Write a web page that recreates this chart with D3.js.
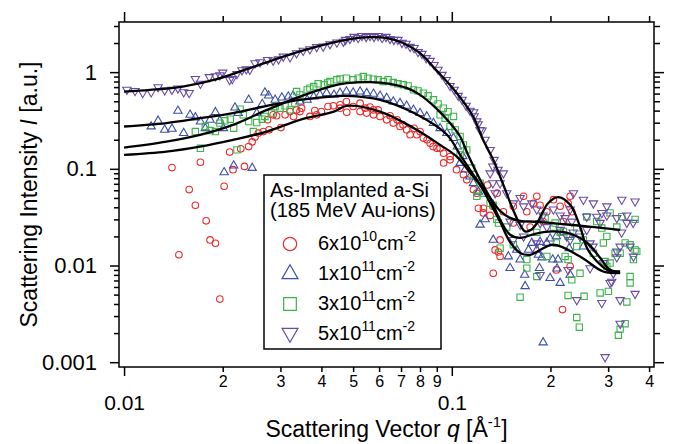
<!DOCTYPE html>
<html>
<head>
<meta charset="utf-8">
<script src="https://cdn.jsdelivr.net/npm/d3@7"></script>
<style>
    body { margin: 0; background: #fff; }
    svg { display: block; font-family: "Liberation Sans", Arial, sans-serif; }
</style>
</head>
<body>
<div id="chart"></div>
<script>
// Scattering data [q (1/A), intensity (a.u.)]
var redPoints = [[0.0140,0.103],[0.0147,0.0129],[0.0158,0.061],[0.0165,0.042],[0.0171,0.117],[0.0178,0.029],[0.0183,0.0184],[0.0190,0.017],[0.0196,0.0045],[0.0202,0.066],[0.0210,0.149],[0.0215,0.098],[0.0227,0.161],[0.0233,0.106],[0.0240,0.170],[0.0246,0.19],[0.0251,0.213],[0.0257,0.234],[0.0266,0.243],[0.0274,0.321],[0.0277,0.253],[0.0285,0.362],[0.0292,0.354],[0.0301,0.267],[0.0310,0.362],[0.0321,0.391],[0.0329,0.348],[0.0336,0.407],[0.0344,0.391],[0.0348,0.424],[0.0369,0.348],[0.0382,0.40],[0.0387,0.362],[0.0400,0.391],[0.0419,0.441],[0.0435,0.448],[0.0456,0.424],[0.0456,0.459],[0.0477,0.496],[0.0478,0.385],[0.0500,0.441],[0.0525,0.478],[0.0525,0.391],[0.0544,0.424],[0.0550,0.377],[0.0563,0.435],[0.0577,0.407],[0.0577,0.362],[0.0596,0.407],[0.0604,0.348],[0.0633,0.321],[0.0648,0.354],[0.0663,0.297],[0.0681,0.321],[0.0695,0.274],[0.0710,0.285],[0.0728,0.253],[0.0746,0.225],[0.0767,0.263],[0.0782,0.225],[0.0800,0.243],[0.0819,0.208],[0.0841,0.20],[0.0859,0.184],[0.0877,0.17],[0.0901,0.163],[0.0921,0.163],[0.0944,0.145],[0.0944,0.115],[0.0988,0.134],[0.0988,0.124],[0.1034,0.098],[0.1085,0.087],[0.1111,0.077],[0.1164,0.061],[0.1192,0.056],[0.1206,0.039],[0.1249,0.039],[0.1249,0.035],[0.1285,0.068],[0.1309,0.033],[0.1334,0.041],[0.1338,0.0083],[0.1356,0.0145],[0.1375,0.056],[0.1388,0.0138],[0.1404,0.0184],[0.1404,0.0124],[0.1437,0.036],[0.1541,0.041],[0.1541,0.0275],[0.1656,0.052],[0.1694,0.036],[0.1734,0.025],[0.1775,0.044],[0.1817,0.052],[0.186,0.042],[0.190,0.0285],[0.195,0.036],[0.2042,0.048],[0.2085,0.0090],[0.2141,0.041],[0.2177,0.0035],[0.2192,0.0285],[0.2264,0.044],[0.2297,0.052],[0.2297,0.0098],[0.2324,0.036]]

var bluePoints = [[0.0121,0.274],[0.0127,0.314],[0.0133,0.253],[0.0140,0.259],[0.0146,0.398],[0.0152,0.234],[0.0159,0.362],[0.0165,0.340],[0.0171,0.308],[0.0177,0.263],[0.0183,0.321],[0.0190,0.385],[0.0196,0.314],[0.0201,0.263],[0.0202,0.092],[0.0216,0.108],[0.0218,0.430],[0.0223,0.377],[0.0240,0.517],[0.0246,0.102],[0.0254,0.377],[0.0264,0.467],[0.0269,0.615],[0.0276,0.572],[0.0289,0.517],[0.0303,0.546],[0.0317,0.559],[0.0328,0.572],[0.0344,0.496],[0.0362,0.517],[0.0379,0.559],[0.0396,0.582],[0.0415,0.606],[0.0437,0.582],[0.0456,0.610],[0.0477,0.630],[0.0500,0.615],[0.0525,0.630],[0.0550,0.606],[0.0577,0.597],[0.0604,0.569],[0.0633,0.540],[0.0663,0.496],[0.0695,0.478],[0.0728,0.448],[0.0764,0.407],[0.0800,0.377],[0.0839,0.348],[0.0879,0.297],[0.0921,0.263],[0.0966,0.234],[0.1012,0.208],[0.1040,0.170],[0.106,0.115],[0.1080,0.135],[0.1098,0.098],[0.1137,0.083],[0.1164,0.071],[0.1206,0.058],[0.122,0.0264],[0.1264,0.030],[0.1338,0.0184],[0.1488,0.0124],[0.1506,0.0094],[0.1578,0.0145],[0.1616,0.0115],[0.1669,0.0080],[0.1674,0.0061],[0.1714,0.0145],[0.1755,0.0171],[0.1817,0.0145],[0.1838,0.0129],[0.1851,0.0094],[0.186,0.0175],[0.1882,0.0121],[0.190,0.0016],[0.195,0.0171],[0.1995,0.019],[0.1995,0.0074],[0.2032,0.0115],[0.2085,0.020],[0.2095,0.0093],[0.211,0.0115],[0.2141,0.0066],[0.2282,0.0151],[0.2297,0.0080],[0.2521,0.0157]]

var greenPoints = [[0.0165,0.243],[0.0171,0.163],[0.0177,0.274],[0.0183,0.249],[0.0190,0.243],[0.0196,0.297],[0.0203,0.314],[0.0211,0.326],[0.0216,0.263],[0.0221,0.157],[0.0226,0.414],[0.0231,0.362],[0.0240,0.308],[0.0248,0.243],[0.0254,0.301],[0.0264,0.326],[0.0269,0.348],[0.0282,0.377],[0.0289,0.441],[0.0299,0.424],[0.0310,0.448],[0.0321,0.407],[0.0332,0.478],[0.0336,0.63],[0.0344,0.582],[0.0362,0.656],[0.0369,0.683],[0.0379,0.709],[0.0391,0.757],[0.0408,0.739],[0.0418,0.775],[0.0425,0.80],[0.0446,0.833],[0.0456,0.85],[0.0477,0.867],[0.0500,0.833],[0.0518,0.867],[0.0537,0.90],[0.0555,0.867],[0.0576,0.847],[0.0596,0.833],[0.0618,0.80],[0.0639,0.833],[0.0663,0.78],[0.0685,0.757],[0.0711,0.739],[0.0736,0.72],[0.0764,0.656],[0.0789,0.64],[0.0819,0.606],[0.0847,0.569],[0.0879,0.517],[0.0908,0.47],[0.0921,0.362],[0.0942,0.424],[0.0954,0.334],[0.0974,0.39],[0.0988,0.274],[0.1012,0.348],[0.1024,0.253],[0.106,0.216],[0.106,0.1395],[0.1085,0.177],[0.1111,0.157],[0.1150,0.102],[0.1164,0.087],[0.1192,0.052],[0.122,0.071],[0.1249,0.056],[0.1309,0.044],[0.1338,0.042],[0.1371,0.030],[0.1388,0.0275],[0.1404,0.0151],[0.1471,0.025],[0.1541,0.0164],[0.1616,0.0047],[0.1694,0.0115],[0.1694,0.0094],[0.1817,0.022],[0.1817,0.0077],[0.1927,0.031],[0.195,0.0124],[0.2042,0.025],[0.2067,0.0275],[0.2085,0.0171],[0.2141,0.022],[0.2192,0.0225],[0.2217,0.0124],[0.2264,0.020],[0.2264,0.0115],[0.2264,0.0049],[0.2297,0.020],[0.2324,0.0071],[0.2406,0.0157],[0.2406,0.0245],[0.2406,0.0029],[0.245,0.0023],[0.2462,0.0083],[0.2521,0.0184],[0.2533,0.0048],[0.2581,0.032],[0.2705,0.0134],[0.2769,0.0285],[0.2835,0.0052],[0.2869,0.0244],[0.2901,0.0171],[0.2936,0.011],[0.2972,0.020],[0.2972,0.0098],[0.3005,0.0054],[0.3041,0.035],[0.3041,0.0106],[0.315,0.0134],[0.3188,0.025],[0.3224,0.0019],[0.3263,0.0134],[0.3263,0.0022],[0.3301,0.032],[0.338,0.0171],[0.338,0.0025],[0.342,0.0042],[0.35,0.0164],[0.35,0.0077],[0.35,0.0066],[0.3583,0.0115],[0.3625,0.0145],[0.3625,0.030],[0.3668,0.014]]

var purplePoints = [[0.0102,0.66],[0.0108,0.64],[0.0114,0.61],[0.0121,0.62],[0.0127,0.70],[0.0133,0.65],[0.0140,0.66],[0.0146,0.68],[0.0152,0.62],[0.0158,0.61],[0.0165,0.85],[0.0171,0.76],[0.0182,0.89],[0.0190,0.91],[0.0196,0.93],[0.0200,0.99],[0.0210,0.83],[0.0214,0.85],[0.0221,0.96],[0.0229,1.05],[0.0236,1.07],[0.0242,1.06],[0.0251,1.24],[0.0260,1.27],[0.0274,1.34],[0.0285,1.32],[0.0296,1.36],[0.0306,1.45],[0.0321,1.43],[0.0336,1.57],[0.0352,1.67],[0.0369,1.73],[0.0387,1.82],[0.0405,1.84],[0.0425,1.95],[0.0446,2.03],[0.0467,2.07],[0.0474,2.16],[0.0489,2.21],[0.0503,2.32],[0.0518,2.26],[0.0532,2.37],[0.0548,2.32],[0.0563,2.37],[0.0579,2.32],[0.0596,2.37],[0.0613,2.26],[0.0630,2.32],[0.0648,2.21],[0.0666,2.16],[0.0685,2.16],[0.0705,2.01],[0.0725,1.97],[0.0746,1.83],[0.0767,1.78],[0.0789,1.62],[0.0811,1.55],[0.0835,1.40],[0.0859,1.31],[0.0883,1.19],[0.0908,1.06],[0.0934,0.94],[0.0961,0.83],[0.0988,0.72],[0.1017,0.66],[0.1046,0.57],[0.1075,0.52],[0.1106,0.45],[0.1137,0.40],[0.1166,0.385],[0.1170,0.35],[0.1192,0.31],[0.1203,0.29],[0.122,0.253],[0.1237,0.25],[0.1264,0.20],[0.1309,0.157],[0.1309,0.090],[0.1334,0.106],[0.1334,0.071],[0.1346,0.124],[0.1356,0.056],[0.1384,0.098],[0.1404,0.071],[0.1437,0.090],[0.1471,0.056],[0.1506,0.0285],[0.1541,0.044],[0.1541,0.0184],[0.1616,0.050],[0.1616,0.0264],[0.1656,0.041],[0.1656,0.020],[0.1755,0.044],[0.1817,0.038],[0.1817,0.017],[0.186,0.0275],[0.186,0.0080],[0.1898,0.033],[0.195,0.025],[0.2042,0.038],[0.2141,0.033],[0.2141,0.0234],[0.2217,0.031],[0.2243,0.020],[0.2264,0.0090],[0.2297,0.038],[0.2297,0.0184],[0.2324,0.0285],[0.2345,0.022],[0.2351,0.056],[0.2406,0.0044],[0.2462,0.020],[0.2521,0.048],[0.2581,0.032],[0.2581,0.0234],[0.2642,0.017],[0.2642,0.0094],[0.2698,0.0157],[0.2705,0.044],[0.2769,0.032],[0.2835,0.0277],[0.2869,0.035],[0.2869,0.0041],[0.2901,0.0106],[0.2936,0.00113],[0.2972,0.041],[0.2972,0.033],[0.3041,0.0066],[0.3077,0.0068],[0.3111,0.0083],[0.3188,0.031],[0.3188,0.014],[0.3188,0.0122],[0.3263,0.0157],[0.3263,0.0044],[0.3263,0.0025],[0.3298,0.022],[0.3301,0.048],[0.342,0.033],[0.342,0.0277],[0.35,0.0157],[0.3575,0.0277],[0.3583,0.0124],[0.3625,0.046],[0.3625,0.0051]]

// Fit curves
var redFit = [[0.01,0.1395],[0.01346,0.151],[0.01706,0.170],[0.0215,0.1995],[0.0273,0.243],[0.0344,0.321],[0.0437,0.391],[0.0478,0.448],[0.0604,0.391],[0.0767,0.263],[0.0921,0.177],[0.1038,0.133],[0.1137,0.0909],[0.122,0.0683],[0.1309,0.0501],[0.1404,0.0368],[0.1506,0.0311],[0.1616,0.029],[0.1822,0.0283],[0.2297,0.0264],[0.3263,0.0234]]
var blueFit = [[0.01,0.274],[0.01346,0.297],[0.01706,0.334],[0.0215,0.377],[0.0273,0.448],[0.0344,0.517],[0.0437,0.562],[0.0478,0.567],[0.0604,0.517],[0.0767,0.377],[0.0967,0.225],[0.106,0.1395],[0.1137,0.0976],[0.122,0.0683],[0.1309,0.0444],[0.1404,0.0283],[0.1506,0.0175],[0.1616,0.0135],[0.1734,0.0129],[0.2038,0.0164],[0.2462,0.0124],[0.2895,0.00867],[0.3263,0.0084]]
var greenFit = [[0.01,0.166],[0.01346,0.1915],[0.01706,0.225],[0.0215,0.285],[0.0273,0.407],[0.0344,0.559],[0.0425,0.709],[0.0478,0.769],[0.0563,0.789],[0.0648,0.757],[0.0731,0.683],[0.080,0.582],[0.0895,0.424],[0.0988,0.297],[0.106,0.216],[0.1121,0.1395],[0.122,0.077],[0.1309,0.0501],[0.1404,0.0297],[0.1506,0.0208],[0.1616,0.0193],[0.1796,0.0213],[0.2038,0.0225],[0.2297,0.0213],[0.2587,0.0172],[0.2835,0.0120],[0.3041,0.00903],[0.3263,0.00867]]
var purpleFit = [[0.01,0.63],[0.012,0.656],[0.0151,0.71],[0.0192,0.847],[0.0242,1.10],[0.0306,1.45],[0.0387,1.84],[0.0489,2.20],[0.0563,2.30],[0.0635,2.25],[0.0710,2.0],[0.080,1.57],[0.0895,1.056],[0.1016,0.656],[0.1162,0.348],[0.1246,0.1995],[0.1338,0.124],[0.1443,0.0656],[0.1538,0.0377],[0.1616,0.0264],[0.1674,0.0225],[0.1747,0.0234],[0.1822,0.0277],[0.1967,0.0441],[0.211,0.051],[0.2297,0.0424],[0.2462,0.0253],[0.2604,0.01454],[0.2972,0.00903],[0.3263,0.00834]]

// Axis ticks and legend
var xMajor = [0.01, 0.1]
var xMajorLabels = ["0.01", "0.1"]
var xMinor = [0.02, 0.03, 0.04, 0.05, 0.06, 0.07, 0.08, 0.09, 0.2, 0.3, 0.4]
var xMinorLabels = ["2", "3", "4", "5", "6", "7", "8", "9", "2", "3", "4"]
var yMajor = [0.001, 0.01, 0.1, 1]
var yMajorLabels = ["0.001", "0.01", "0.1", "1"]
var yMinor = []
yMajor.forEach(d => { [2, 3, 4, 5, 6, 7, 8, 9].forEach(k => { if (d * k < 3.3) yMinor.push(+(d * k).toPrecision(2)) }) })

var legendTitle = ["As-Implanted a-Si", "(185 MeV Au-ions)"]
var legendBase = ["6x10", "1x10", "3x10", "5x10"]
var legendExp = ["10", "11", "11", "11"]

var series = [
    { points: redPoints, fit: redFit, color: "#ee2b2b", shape: d3.symbolCircle, size: 34, rot: 0, big: 140 },
    { points: bluePoints, fit: blueFit, color: "#3d4fa8", shape: d3.symbolTriangle, size: 30, rot: 0, big: 110 },
    { points: greenPoints, fit: greenFit, color: "#3cb44a", shape: d3.symbolSquare, size: 40, rot: 0, big: 160 },
    { points: purplePoints, fit: purpleFit, color: "#6a4ca6", shape: d3.symbolTriangle, size: 30, rot: 180, big: 110 }
]

var width = 699
var height = 444
var plotLeft = 119, plotRight = 654, plotTop = 22, plotBottom = 367

var svg = d3.select('#chart')
            .append('svg')
            .attr('width', width)
            .attr('height', height)

var x = d3.scaleLog().domain([0.00965, 0.414]).range([plotLeft, plotRight])
var y = d3.scaleLog().domain([0.000892, 3.30]).range([plotBottom, plotTop])

// data markers
series.forEach(s => {
    svg.append('g')
        .selectAll('path')
        .data(s.points)
        .join('path')
        .attr('d', d3.symbol().type(s.shape).size(s.size))
        .attr('transform', d => `translate(${x(d[0])},${y(d[1])}) rotate(${s.rot})`)
        .attr('fill', 'none')
        .attr('stroke', s.color)
        .attr('stroke-width', 1.1)
})

// fit lines
var line = d3.line()
            .x(d => x(d[0]))
            .y(d => y(d[1]))
            .curve(d3.curveCatmullRom)
series.forEach(s => {
    svg.append('path')
        .attr('d', line(s.fit))
        .attr('fill', 'none')
        .attr('stroke', '#000')
        .attr('stroke-width', 2.3)
})

// frame
svg.append('rect')
    .attr('x', plotLeft).attr('y', plotTop)
    .attr('width', plotRight - plotLeft).attr('height', plotBottom - plotTop)
    .attr('fill', 'none').attr('stroke', '#000').attr('stroke-width', 1.5)

function styleAxis (g, fontSize) {
    g.select('.domain').remove()
    g.selectAll('line').attr('stroke', '#000').attr('stroke-width', 1.5)
    g.selectAll('text').attr('fill', '#000').style('font-size', fontSize + 'px')
        .style('font-family', '"Liberation Sans", Arial, sans-serif')
}

// bottom axis
svg.append('g').attr('transform', `translate(0,${plotBottom})`)
    .call(d3.axisBottom(x).tickValues(xMajor).tickSize(9).tickPadding(19).tickFormat((d, i) => xMajorLabels[i]))
    .call(g => styleAxis(g, 21))
svg.append('g').attr('transform', `translate(0,${plotBottom})`)
    .call(d3.axisBottom(x).tickValues(xMinor).tickSize(5).tickPadding(4).tickFormat((d, i) => xMinorLabels[i]))
    .call(g => styleAxis(g, 16))

// top axis
svg.append('g').attr('transform', `translate(0,${plotTop})`)
    .call(d3.axisTop(x).tickValues(xMajor).tickSize(10).tickFormat(''))
    .call(g => styleAxis(g, 10))
svg.append('g').attr('transform', `translate(0,${plotTop})`)
    .call(d3.axisTop(x).tickValues(xMinor).tickSize(6).tickFormat(''))
    .call(g => styleAxis(g, 10))

// left axis
svg.append('g').attr('transform', `translate(${plotLeft},0)`)
    .call(d3.axisLeft(y).tickValues(yMajor).tickSize(9).tickPadding(13).tickFormat((d, i) => yMajorLabels[i]))
    .call(g => styleAxis(g, 22))
svg.append('g').attr('transform', `translate(${plotLeft},0)`)
    .call(d3.axisLeft(y).tickValues(yMinor).tickSize(5).tickFormat(''))
    .call(g => styleAxis(g, 10))

// right axis
svg.append('g').attr('transform', `translate(${plotRight},0)`)
    .call(d3.axisRight(y).tickValues(yMajor).tickSize(10).tickFormat(''))
    .call(g => styleAxis(g, 10))
svg.append('g').attr('transform', `translate(${plotRight},0)`)
    .call(d3.axisRight(y).tickValues(yMinor).tickSize(6).tickFormat(''))
    .call(g => styleAxis(g, 10))

// axis titles
var xTitle = svg.append('text')
    .attr('x', (plotLeft + plotRight) / 2)
    .attr('y', 437)
    .attr('text-anchor', 'middle')
    .style('font-size', '23px')
xTitle.append('tspan').text('Scattering Vector ')
xTitle.append('tspan').style('font-style', 'italic').text('q')
xTitle.append('tspan').text(' [Å')
xTitle.append('tspan').attr('dy', -10).style('font-size', '15px').text('-1')
xTitle.append('tspan').attr('dy', 10).text(']')

var yTitle = svg.append('text')
    .attr('transform', `translate(37,${(plotTop + plotBottom) / 2}) rotate(-90)`)
    .attr('text-anchor', 'middle')
    .style('font-size', '23px')
yTitle.append('tspan').text('Scattering Intensity ')
yTitle.append('tspan').style('font-style', 'italic').text('I')
yTitle.append('tspan').text(' [a.u.]')

// legend
var legend = svg.append('g')
legend.append('rect')
    .attr('x', 264).attr('y', 175)
    .attr('width', 177).attr('height', 174)
    .attr('fill', '#fff').attr('stroke', '#000').attr('stroke-width', 1.5)

legendTitle.forEach((t, i) => {
    legend.append('text')
        .attr('x', 270)
        .attr('y', 197 + i * 20)
        .style('font-size', '20px')
        .text(t)
})

series.forEach((s, i) => {
    var row = legend.append('g').attr('transform', `translate(0, ${i * 30})`)
    row.append('path')
        .attr('d', d3.symbol().type(s.shape).size(s.big))
        .attr('transform', `translate(290,${244 + (s.rot ? -1 : 0)}) rotate(${s.rot})`)
        .attr('fill', 'none')
        .attr('stroke', s.color)
        .attr('stroke-width', 1.2)
    var t = row.append('text')
        .attr('x', 318)
        .attr('y', 249.5)
        .style('font-size', '20px')
    t.append('tspan').text(legendBase[i])
    t.append('tspan').attr('dy', -9).style('font-size', '14px').text(legendExp[i])
    t.append('tspan').attr('dy', 9).text('cm')
    t.append('tspan').attr('dy', -9).style('font-size', '14px').text('-2')
})
</script>
</body>
</html>
